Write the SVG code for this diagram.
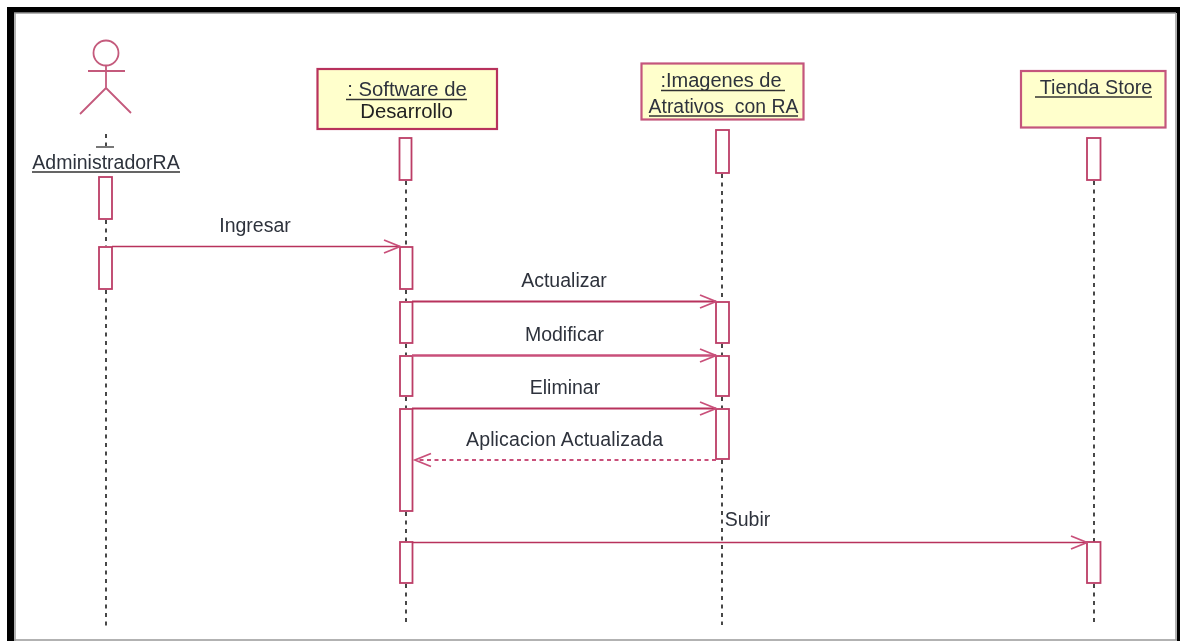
<svg xmlns="http://www.w3.org/2000/svg" width="1180" height="641" viewBox="0 0 1180 641">
<defs>
<marker id="open" markerUnits="userSpaceOnUse" markerWidth="20" markerHeight="18" refX="17" refY="9" orient="auto"><path d="M1 2.500 L17 9 L1 15.500" fill="none" stroke="#c9507a" stroke-width="1.800"/></marker>
<filter id="soft" x="0" y="0" width="1180" height="641" filterUnits="userSpaceOnUse"><feGaussianBlur stdDeviation="0.55"/></filter>
</defs>
<style>
.t{font-family:"Liberation Sans",Arial,sans-serif;font-size:19.500px;fill:#2e333c;text-anchor:middle;white-space:pre}
.h{font-size:20.300px}
.b{fill:#ffffcc;stroke:#b8305c;stroke-width:2.200}
.a{fill:#fff;stroke:#bc3d66;stroke-width:1.800}
.l{stroke:#333;stroke-width:1.800;stroke-dasharray:4 4.500;fill:none}
.m{stroke:#b8305c;stroke-width:1.700;fill:none;marker-end:url(#open)}
.u{stroke:#333;stroke-width:1.500}
</style>
<rect width="1180" height="641" fill="#fff"/>
<g id="frame">
<path d="M7 641V7H1180V641H1177V13H14V641Z" fill="#000"/>
<path d="M15 641V13.500M14 13H1176M1176 13V640M14 640H1177" fill="none" stroke="#999" stroke-width="1.500"/>
</g>
<g filter="url(#soft)">
<g id="lifelines">
<path class="l" d="M106 134V150M106 220V246M106 290V627"/>
<path class="l" d="M406 181V246M406 290V301M406 344V355M406 397V408M406 512V542M406 584V625"/>
<path class="l" d="M722 174V301M722 344V355M722 397V408M722 460V625"/>
<path class="l" d="M1094 181V542M1094 584V625"/>
</g>
<g id="actor">
<g fill="none" stroke="#c45a7c" stroke-width="1.800">
<circle cx="106" cy="53" r="12.500"/>
<path d="M106 66V88M88 71H125M106 88L80 114M106 88L131 113"/>
</g>
<path d="M96 147H114" stroke="#777" stroke-width="2"/>
<text class="t" x="106" y="169">AdministradorRA</text>
<line class="u" x1="32" y1="172" x2="180" y2="172"/>
<rect class="a" x="99" y="177" width="13" height="42"/>
<rect class="a" x="99" y="247" width="13" height="42"/>
</g>
<g id="software">
<rect class="b" x="317.500" y="69" width="179.500" height="60"/>
<text class="t h" x="407" y="96">: Software de</text>
<text class="t h" x="406.500" y="118" style="fill:#222">Desarrollo</text>
<line class="u" x1="346" y1="99.500" x2="467" y2="99.500"/>
<rect class="a" x="399.500" y="138" width="12" height="42"/>
<rect class="a" x="400" y="247" width="12.500" height="42"/>
<rect class="a" x="400" y="302" width="12.500" height="41"/>
<rect class="a" x="400" y="356" width="12.500" height="40"/>
<rect class="a" x="400" y="409" width="12.500" height="102"/>
<rect class="a" x="400" y="542" width="12.500" height="41"/>
</g>
<g id="imagenes">
<rect class="b" x="641.500" y="63.500" width="162" height="56" style="stroke:#c4557c"/>
<text class="t" x="721" y="87" style="font-size:20px">:Imagenes de</text>
<text class="t" x="723.500" y="112.500" style="font-size:19.400px">Atrativos  con RA</text>
<line class="u" x1="661" y1="90.500" x2="785" y2="90.500"/>
<line class="u" x1="649" y1="116" x2="798" y2="116"/>
<rect class="a" x="716" y="130" width="13" height="43"/>
<rect class="a" x="716" y="302" width="13" height="41"/>
<rect class="a" x="716" y="356" width="13" height="40"/>
<rect class="a" x="716" y="409" width="13" height="50"/>
</g>
<g id="tienda">
<rect class="b" x="1021" y="71" width="144.500" height="56.500" style="stroke:#c4557c"/>
<text class="t" x="1096" y="94" style="font-size:19.800px">Tienda Store</text>
<line class="u" x1="1035" y1="97" x2="1152" y2="97"/>
<rect class="a" x="1087" y="138" width="13.500" height="42"/>
<rect class="a" x="1087" y="542" width="13.500" height="41"/>
</g>
<g id="connectors">
<path class="m" d="M112 246.500H400"/>
<path class="m" d="M412 301.500H716" style="stroke-width:2"/>
<path class="m" d="M412 355.500H716" style="stroke-width:2.600;stroke:#c9507a"/>
<path class="m" d="M412 408.500H716" style="stroke-width:2"/>
<path class="m" d="M716 460H415" stroke-dasharray="4 3.500" style="stroke:#c9507a;stroke-width:2.200"/>
<path class="m" d="M412 542.500H1087"/>
<text class="t" x="255" y="232">Ingresar</text>
<text class="t" x="564" y="287">Actualizar</text>
<text class="t" x="564.500" y="341">Modificar</text>
<text class="t" x="565" y="394">Eliminar</text>
<text class="t" x="564.500" y="446" textLength="197">Aplicacion Actualizada</text>
<text class="t" x="747.500" y="526">Subir</text>
</g>
</g>
</svg>
